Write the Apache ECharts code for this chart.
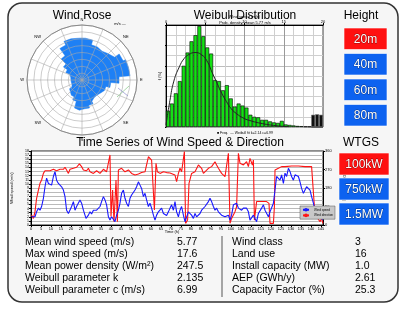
<!DOCTYPE html>
<html>
<head>
<meta charset="UTF-8">
<title>Wind Resource</title>
<script src="https://cdn.jsdelivr.net/npm/echarts@6/dist/echarts.min.js"></script>
<style>
  html, body { margin: 0; padding: 0; background: #fff; }
  #chart { width: 406px; height: 309px; }
</style>
</head>
<body>
<div id="chart"></div>
<script>
// wind rose, 10 deg sectors clockwise from N (frequency, rings of 1)
const roseDirs = [0, 10, 20, 30, 40, 50, 60, 70, 80, 90, 100, 110, 120, 130, 140, 150, 160, 170,
                  180, 190, 200, 210, 220, 230, 240, 250, 260, 270, 280, 290, 300, 310, 320, 330, 340, 350];
const roseFreq = [6.1, 6.0, 5.3, 5.1, 5.4, 5.8, 6.6, 7.0, 7.0, 5.4, 4.2, 3.6, 3.3, 3.1, 3.1, 3.4, 3.8, 4.2,
                  4.4, 4.2, 3.2, 2.7, 2.4, 2.2, 1.8, 1.6, 1.6, 1.6, 1.7, 2.0, 2.6, 3.3, 4.3, 5.6, 6.2, 6.1];

// weibull histogram, 0.5 m/s bins (%)
const histBins = ['0','0.5','1','1.5','2','2.5','3','3.5','4','4.5','5','5.5','6','6.5','7','7.5','8','8.5','9','9.5',
                  '10','10.5','11','11.5','12','12.5','13','13.5','14','14.5','15','15.5','16','16.5','17','17.5','18','18.5','19','19.5'];
const histFreq = [1.6, 2.3, 3.3, 4.5, 6.0, 7.3, 8.4, 9.0, 9.9, 8.9, 7.8, 7.2, 4.6, 4.5, 3.6, 4.1, 2.8, 2.0, 2.3, 2.1,
                  1.9, 1.2, 1.0, 0.95, 0.7, 0.7, 0.55, 0.45, 0.4, 0.6, 0.25, 0.2, 0.15, 0.1, 0.08, 0.05, 0.04, 0, 0, 0];
const histTail = [null, null, null, null, null, null, null, null, null, null, null, null, null, null, null, null, null, null, null, null,
                  null, null, null, null, null, null, null, null, null, null, null, null, null, null, null, null, null, 1.2, 1.25, 1.2];
const weibullFit = [[0, 0.2], [0.5, 2.6], [1, 4.5], [1.7, 5.9], [2.3, 6.7], [2.9, 7.1], [3.7, 7.3], [4.5, 7.1], [5.2, 6.5],
                    [5.9, 5.3], [6.5, 4.3], [7.1, 3.3], [7.7, 2.5], [8.3, 1.8], [9.0, 1.3], [9.8, 0.9], [10.6, 0.65],
                    [12.3, 0.33], [14, 0.13], [15.6, 0.03]];

// time series (step index, value)
const speedSeries = [[0.3,2.0],[1.2,2.4],[2,2.0],[2.8,3.2],[3.7,4.1],[4.5,3.6],[5.3,4.5],[6.2,6.5],[7,9.3],[7.8,11.4],[8.7,10.1],
  [9.5,10.5],[10.3,9.7],[11.2,11.8],[12,13.0],[12.8,10.9],[13.7,10.1],[14.5,10.5],[15.3,9.3],[16.2,8.5],[17,6.9],[17.8,3.6],
  [18.7,2.8],[19.5,3.2],[20.3,4.5],[21.2,5.7],[22,3.6],[22.8,4.5],[23.7,4.9],[24.5,6.1],[25.3,5.3],[26.2,3.6],[27.5,1.6],
  [28.7,2.4],[29.5,3.2],[30.3,2.7],[31.2,3.6],[32.8,3.6],[33.7,3.7],[34.5,4.5],[35.3,5.7],[36.2,6.9],[37,6.1],[37.8,4.9],
  [38.7,2.0],[39.5,1.2],[40.3,2.0],[41.2,1.6],[42,0.8],[42.8,2.4],[43.7,3.6],[44.5,5.3],[45.3,7.7],[46.2,8.5],[47,6.5],
  [47.8,5.3],[48.7,4.5],[49.5,6.5],[50.3,7.3],[51.2,7.7],[52,8.5],[52.8,9.3],[53.7,10.5],[54.5,9.7],[55.3,8.9],[56.2,6.9],
  [57,7.7],[57.8,6.1],[58.7,4.5],[59.5,5.3],[60.3,4.1],[61.2,2.4],[62,1.2],[62.8,2.4],[63.7,3.2],[64.5,3.6],[65.3,4.1],
  [66.2,2.8],[67,2.4],[67.8,2.3],[68.7,3.2],[69.5,4.1],[70.3,4.9],[71.2,3.6],[72,5.7],[72.8,3.2],[73.7,2.0],[74.5,3.6],
  [75.3,4.5],[76.2,2.4],[77,0.8],[77.8,1.2],[78.7,3.2],[79.5,3.6],[80.3,2.4],[81.2,1.6],[82,2.8],[82.8,2.0],[83.7,2.4],
  [84.5,2.8],[85.3,3.6],[86.2,3.2],[87,4.5],[87.8,4.9],[88.7,5.7],[89.5,6.5],[90.3,5.7],[91.2,4.5],[92,3.6],[92.8,4.1],
  [93.7,3.2],[94.5,2.8],[95.3,2.4],[96.2,2.4],[97,2.0],[97.8,1.6],[98.7,2.4],[99.5,1.2],[100.3,2.4],[101.2,4.9],[102,4.5],
  [102.8,5.3],[103.7,4.1],[104.5,4.5],[105.3,3.6],[106.2,4.1],[107,4.5],[107.8,4.1],[108.7,3.2],[109.5,1.2],[110.3,0.8],
  [111.2,2.4],[112,1.6],[112.8,0.8],[113.7,2.8],[114.5,3.2],[115.3,4.1],[116.2,4.9],[117,3.6],[117.8,3.2],[118.7,2.0],
  [119.5,3.2],[120.3,3.6],[121.2,5.3],[122,8.5],[122.8,11.8],[123.7,11.4],[124.5,10.9],[125.3,12.2],[126.2,10.1],[127,12.6],
  [127.8,11.8],[128.7,13.8],[129.5,13.0],[130.3,11.8],[131.2,10.9],[132,12.2],[132.8,12.6],[133.7,11.8],[134.5,10.5],
  [135.3,8.9],[136.2,7.7],[137,8.1],[137.8,9.3],[138.7,9.5],[139.5,8.5],[140.3,6.9],[141.2,5.3],[142,3.6],[142.8,2.8],
  [143.7,3.2],[144.5,2.4],[145.3,1.6],[146,1.2]];
const dirSeries = [[0.3,49],[1.2,32],[2,65],[2.8,130],[3.7,170],[4.5,203],[5.3,219],[6.2,251],[7,264],[7.8,268],[9.5,264],
  [11.2,271],[12.8,264],[14.5,271],[16.2,271],[17,281],[17.8,268],[18.7,251],[19.5,271],[21.2,276],[22.8,281],[24.2,297],
  [25.3,284],[26.2,268],[27.8,264],[28.7,276],[29.5,259],[31.2,251],[32,259],[32.8,264],[34.5,251],[35.3,259],[36.2,271],
  [37.8,259],[38.7,251],[39.5,341],[40,41],[40.8,170],[41.5,16],[42.5,219],[43.2,16],[43.7,268],[45.3,276],[47,259],
  [48.7,268],[50.3,251],[52,243],[53.7,248],[55.3,255],[57,259],[58.7,332],[59.5,341],[60.3,316],[61.2,324],[61.7,73],
  [62.5,300],[63.2,259],[64.5,251],[66.2,259],[67.8,255],[69.5,253],[70.3,255],[72,243],[72.8,211],[73.7,251],[74.5,276],
  [75.3,259],[76.7,357],[77.3,8],[78.3,24],[79,203],[80.3,251],[82,259],[83.7,292],[85.3,276],[86.2,251],[87,259],
  [88.7,276],[90.3,284],[92,308],[92.8,292],[93.7,276],[95.3,251],[97,235],[97.8,227],[98.7,349],[99.5,8],[100.3,32],
  [102,65],[102.8,89],[103.7,349],[104.5,300],[106.2,292],[107.8,308],[108.7,284],[109.5,324],[110.7,292],[111.2,316],
  [111.7,24],[112.3,16],[112.8,114],[115.3,114],[117.8,114],[119,105],[119.5,8],[121.2,8],[121.7,89],[122,268],[123.7,276],
  [125.3,284],[127,284],[130.3,287],[133.7,287],[137,284],[140.3,284],[141.2,292],[141.7,89],[142.8,41],[143.7,32],
  [144.5,16],[145.3,32],[146,8]];

const heights = ['20m', '40m', '60m', '80m'];
const turbines = ['100kW', '750kW', '1.5MW'];
const statLabelsL = ['Mean wind speed (m/s)', 'Max wind speed (m/s)', 'Mean power density (W/m\u00b2)', 'Weibull parameter k', 'Weibull parameter c (m/s)'];
const statValuesL = ['5.77', '17.6', '247.5', '2.135', '6.99'];
const statLabelsR = ['Wind class', 'Land use', 'Install capacity (MW)', 'AEP (GWh/y)', 'Capacity Factor (%)'];
const statValuesR = ['3', '16', '1.0', '2.61', '25.3'];

const FONT = '"Liberation Sans", Arial, sans-serif';
const RED = '#ff1010', BLUE = '#0d62f0';
const compass = {0: 'N', 45: 'NE', 90: 'E', 135: 'SE', 180: 'S', 225: 'SW', 270: 'W', 315: 'NW'};

// rose outline: each 10 deg sector as a flat arc step [radius, angle]
const roseOutline = [[roseFreq[0], 0]];
roseDirs.forEach((d, i) => {
  roseOutline.push([roseFreq[i], i === 0 ? d : d - 5]);
  roseOutline.push([roseFreq[i], d + 5]);
});
roseOutline.push([roseFreq[0], 360]);

function txt(text, x, y, size, align, fill) {
  return {
    type: 'text', z: 60,
    style: { text: text, x: x, y: y, font: size + 'px ' + FONT, fill: fill || '#000',
             align: align || 'center', verticalAlign: 'middle', textAlign: align || 'center', textVerticalAlign: 'middle' }
  };
}
function button(out, label, x, y, w, h, color) {
  out.push({ type: 'rect', z: 50, shape: { x: x, y: y, width: w, height: h },
             style: { fill: color, stroke: 'rgba(255,255,255,0.6)', lineWidth: 1 } });
  const t = txt(label, x + w / 2, y + h / 2 + 0.5, 12, 'center', '#fff');
  t.style.stroke = 'rgba(0,0,0,0.45)';
  t.style.lineWidth = 0.8;
  out.push(t);
}

const graphics = [
  { type: 'rect', z: -1, shape: { x: 8, y: 3, width: 390, height: 299, r: 14 },
    style: { fill: '#f6f6f6', stroke: '#333', lineWidth: 1.5 } },
  txt('Wind Rose', 82, 16, 12),
  txt('Weibull Distribution', 245, 16, 12),
  txt('Height', 361, 16, 12),
  txt('Time Series of Wind Speed & Direction', 180, 143, 12),
  txt('WTGS', 361, 143, 12),
  txt('m/s \u2014', 120, 24, 4),
  txt('Prob. density, mean 5.77 m/s', 245, 23, 4),
  txt('\u25a0 Freq.  \u2014 Weibull fit k=2.14 c=6.99', 245, 133, 3.5),
  txt('Time (h)', 172, 232, 4),
  // small mean-direction marker on the rose
  { type: 'line', z: 40, shape: { x1: 117, y1: 97, x2: 129, y2: 86 }, style: { stroke: 'rgba(120,190,120,0.8)', lineWidth: 0.8 } },
  { type: 'line', z: 40, shape: { x1: 118, y1: 88, x2: 128, y2: 96 }, style: { stroke: 'rgba(130,130,200,0.8)', lineWidth: 0.8 } },
  { type: 'line', z: 50, shape: { x1: 222, y1: 236, x2: 222, y2: 297 }, style: { stroke: '#555', lineWidth: 1 } }
];
heights.forEach((h, i) => button(graphics, h, 344, 28 + i * 25.5, 43, 21.5, i === 0 ? RED : BLUE));
turbines.forEach((t, i) => button(graphics, t, 339, 153 + i * 25, 50, 22, i === 0 ? RED : BLUE));
statLabelsL.forEach((s, i) => {
  graphics.push(txt(s, 25, 242 + i * 12, 10.5, 'left'));
  graphics.push(txt(statValuesL[i], 177, 242 + i * 12, 10.5, 'left'));
});
statLabelsR.forEach((s, i) => {
  graphics.push(txt(s, 232, 242 + i * 12, 10.5, 'left'));
  graphics.push(txt(statValuesR[i], 355, 242 + i * 12, 10.5, 'left'));
});

const tiny = { fontSize: 4, color: '#000', fontFamily: FONT };
const chart = echarts.init(document.getElementById('chart'), null, { renderer: 'canvas' });
chart.setOption({
  animation: false,
  backgroundColor: '#fff',
  polar: [
    { center: [82, 80], radius: 55 },
    { center: [82, 80], radius: 55 }
  ],
  angleAxis: [
    { polarIndex: 0, type: 'value', min: 0, max: 360, startAngle: 90, clockwise: true,
      axisLine: { show: false }, axisTick: { show: false }, axisLabel: { show: false }, splitLine: { show: false } },
    { polarIndex: 1, type: 'value', min: 0, max: 360, interval: 22.5, startAngle: 90, clockwise: true, z: 5,
      axisLine: { lineStyle: { color: '#8a8a8a', width: 1 } }, axisTick: { show: false },
      axisLabel: Object.assign({ margin: 3, formatter: v => compass[v] || '' }, tiny),
      splitLine: { lineStyle: { color: '#a9a9a9', width: 0.6 } } }
  ],
  radiusAxis: [
    { polarIndex: 0, min: 0, max: 8, axisLine: { show: false }, axisTick: { show: false }, axisLabel: { show: false },
      splitLine: { show: false }, splitArea: { show: true, areaStyle: { color: ['#fff'] } } },
    { polarIndex: 1, min: 0, max: 8, interval: 1, z: 5, axisLine: { show: false }, axisTick: { show: false },
      axisLabel: { show: false }, splitLine: { lineStyle: { color: '#a9a9a9', width: 0.6 } } }
  ],
  grid: [
    { left: 166, top: 25, width: 157, height: 102, show: true, backgroundColor: '#fff', borderColor: '#444', borderWidth: 1 },
    { left: 31, top: 151, width: 292, height: 74, show: true, backgroundColor: '#fff', borderColor: '#222', borderWidth: 1 }
  ],
  xAxis: [
    { gridIndex: 0, type: 'category', data: histBins, show: false },
    { gridIndex: 0, type: 'value', min: 0, max: 20, interval: 5,
      name: 'Wind speed (m/s)', nameLocation: 'middle', nameGap: 3, nameTextStyle: tiny,
      axisLine: { lineStyle: { color: '#000' } }, axisTick: { length: 2 }, axisLabel: Object.assign({ margin: 1 }, tiny),
      splitLine: { lineStyle: { color: '#9a9a9a' } },
      minorTick: { show: false, splitNumber: 4 }, minorSplitLine: { show: true, lineStyle: { color: '#cfcfcf' } } },
    { gridIndex: 1, type: 'value', min: 0, max: 146, interval: 5,
      axisLine: { lineStyle: { color: '#000' } }, axisTick: { length: 2 }, axisLabel: Object.assign({ margin: 2 }, tiny),
      splitLine: { show: false } }
  ],
  yAxis: [
    { gridIndex: 0, min: 0, max: 10, interval: 2,
      name: 'f (%)', nameLocation: 'middle', nameGap: 4, nameRotate: 90, nameTextStyle: tiny,
      axisLine: { show: true, lineStyle: { color: '#000' } }, axisTick: { show: true, length: 1 }, axisLabel: { show: false },
      splitLine: { lineStyle: { color: '#bdbdbd' } },
      minorTick: { show: false, splitNumber: 2 }, minorSplitLine: { show: true, lineStyle: { color: '#cfcfcf' } } },
    { gridIndex: 1, min: 0, max: 18, interval: 1,
      name: 'Wind speed (m/s)', nameLocation: 'middle', nameGap: 7, nameRotate: 90, nameTextStyle: tiny,
      axisLine: { show: true, lineStyle: { color: '#000' } }, axisTick: { show: true, length: 2 },
      axisLabel: { fontSize: 3.5, margin: 2, color: '#000' },
      splitLine: { lineStyle: { color: '#a8a8a8', width: 0.8 } } },
    { gridIndex: 1, min: 0, max: 360, interval: 90, position: 'right',
      name: 'Direction (deg)', nameLocation: 'middle', nameGap: 10, nameRotate: 270, nameTextStyle: tiny,
      axisLine: { show: true, lineStyle: { color: '#000' } }, axisTick: { show: true, length: 2 },
      axisLabel: Object.assign({ margin: 2 }, tiny), splitLine: { show: false } }
  ],
  legend: {
    left: 300, top: 206, orient: 'vertical', itemWidth: 6, itemHeight: 2, itemGap: 2, padding: 2,
    backgroundColor: '#c8c8c8', borderColor: '#555', borderWidth: 0.5,
    textStyle: { fontSize: 3, color: '#000' }, data: ['Wind speed', 'Wind direction']
  },
  series: [
    { type: 'line', coordinateSystem: 'polar', polarIndex: 0, data: roseOutline, showSymbol: false, silent: true,
      lineStyle: { color: '#1e80f5', width: 0.5 }, areaStyle: { color: '#1e80f5', opacity: 1 }, z: 2 },
    { type: 'scatter', coordinateSystem: 'polar', polarIndex: 1, data: [], silent: true },
    { type: 'bar', xAxisIndex: 0, yAxisIndex: 0, data: histFreq, barCategoryGap: '0%',
      itemStyle: { color: '#14e014', borderColor: '#000', borderWidth: 0.6 } },
    { type: 'bar', xAxisIndex: 0, yAxisIndex: 0, data: histTail, barGap: '-100%', barCategoryGap: '0%',
      itemStyle: { color: '#111', borderColor: '#777', borderWidth: 0.6 } },
    { type: 'line', xAxisIndex: 1, yAxisIndex: 0, data: weibullFit, smooth: true, showSymbol: false,
      lineStyle: { color: '#222', width: 1 } },
    { name: 'Wind direction', type: 'line', xAxisIndex: 2, yAxisIndex: 2, data: dirSeries, showSymbol: false,
      lineStyle: { color: '#ff1414', width: 1.1 }, itemStyle: { color: '#ff1414' } },
    { name: 'Wind speed', type: 'line', xAxisIndex: 2, yAxisIndex: 1, data: speedSeries, showSymbol: false,
      lineStyle: { color: '#1818ff', width: 1.1 }, itemStyle: { color: '#1818ff' } }
  ],
  graphic: { elements: graphics }
});
</script>
</body>
</html>
